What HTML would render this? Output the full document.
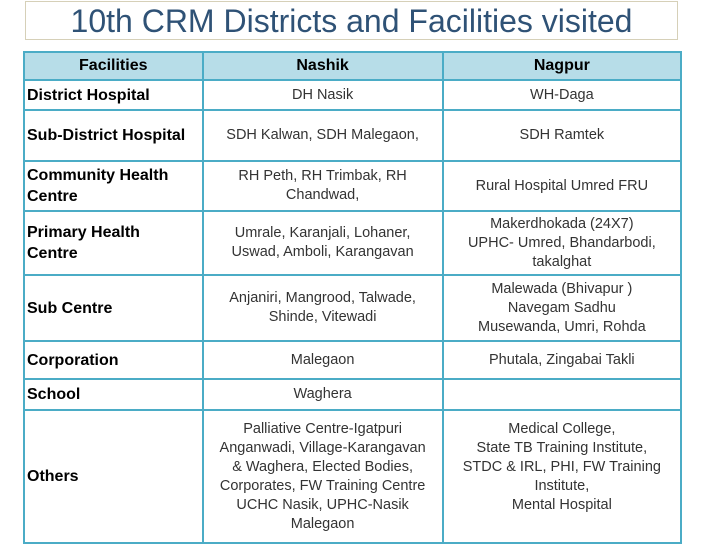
<!DOCTYPE html>
<html><head><meta charset="utf-8"><style>
body{margin:0;width:720px;height:540px;background:#fff;overflow:hidden;font-family:"Liberation Sans",sans-serif;position:relative}
#title{position:absolute;left:25px;top:1px;width:653px;height:39px;border:1px solid #d6d0b8;box-sizing:border-box;text-align:center;font-size:32px;line-height:39px;color:#2f5276}
table{position:absolute;left:23px;top:51px;border-collapse:collapse;width:659px}
td,th{border:2px solid #4bacc6;padding:0 2px;box-sizing:border-box}
th{background:#b7dde8;font-size:16px;font-weight:bold;height:28px;color:#000}
td.f{font-size:16px;font-weight:bold;color:#000;text-align:left;line-height:21px}
td.v{font-size:14.5px;color:#333;text-align:center;line-height:19px;padding:0 10px}
</style></head><body>
<div id="title">10th CRM Districts and Facilities visited</div>
<table>
<colgroup><col style="width:179px"><col style="width:241px"><col style="width:239px"></colgroup>
<tr><th>Facilities</th><th>Nashik</th><th>Nagpur</th></tr>
<tr style="height:30px"><td class="f">District Hospital</td><td class="v">DH Nasik</td><td class="v">WH-Daga</td></tr>
<tr style="height:51px"><td class="f">Sub-District Hospital</td><td class="v">SDH Kalwan, SDH Malegaon,</td><td class="v">SDH Ramtek</td></tr>
<tr style="height:50px"><td class="f">Community Health Centre</td><td class="v">RH Peth, RH Trimbak, RH Chandwad,</td><td class="v">Rural Hospital Umred FRU</td></tr>
<tr style="height:64px"><td class="f">Primary Health<br>Centre</td><td class="v">Umrale, Karanjali, Lohaner,<br>Uswad, Amboli, Karangavan</td><td class="v">Makerdhokada (24X7)<br>UPHC- Umred, Bhandarbodi, takalghat</td></tr>
<tr style="height:66px"><td class="f">Sub Centre</td><td class="v">Anjaniri, Mangrood, Talwade, Shinde, Vitewadi</td><td class="v">Malewada (Bhivapur )<br>Navegam Sadhu<br>Musewanda, Umri, Rohda</td></tr>
<tr style="height:38px"><td class="f">Corporation</td><td class="v">Malegaon</td><td class="v">Phutala, Zingabai Takli</td></tr>
<tr style="height:31px"><td class="f">School</td><td class="v">Waghera</td><td class="v"></td></tr>
<tr style="height:133px"><td class="f">Others</td><td class="v">Palliative Centre-Igatpuri<br>Anganwadi, Village-Karangavan<br>&amp; Waghera, Elected Bodies,<br>Corporates, FW Training Centre<br>UCHC Nasik, UPHC-Nasik<br>Malegaon</td><td class="v">Medical College,<br>State TB Training Institute,<br>STDC &amp; IRL, PHI, FW Training<br>Institute,<br>Mental Hospital<br>&nbsp;</td></tr>
</table>
</body></html>
